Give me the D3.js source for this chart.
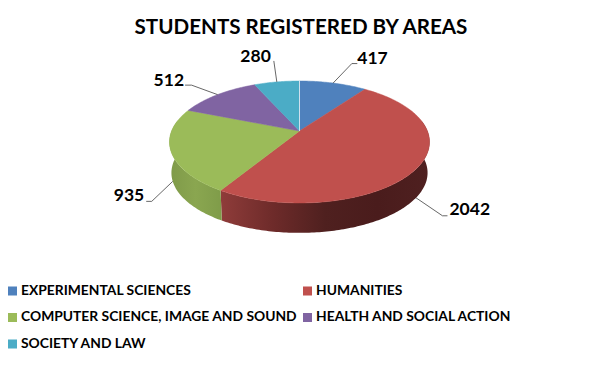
<!DOCTYPE html>
<html>
<head>
<meta charset="utf-8">
<title>Students registered by areas</title>
<style>
	html, body { margin: 0; padding: 0; background: #fff; }
	svg { display: block; }
	text { font-family: Lato, "Open Sans", sans-serif; font-weight: 700; fill: #000; }
</style>
</head>
<body>
<script src="https://cdn.jsdelivr.net/npm/d3@7/dist/d3.min.js"></script>
<script>
	var titleText = "STUDENTS REGISTERED BY AREAS";
	var categories = ["EXPERIMENTAL SCIENCES", "HUMANITIES", "COMPUTER SCIENCE, IMAGE AND SOUND", "HEALTH AND SOCIAL ACTION", "SOCIETY AND LAW"];
	var values = [417, 2042, 935, 512, 280];
	var colors = ["#4f81bd", "#c0504d", "#9bbb59", "#8064a2", "#4bacc6"];
	// wall shading, left to right
	var wallColors = [null, ["#8f3c3a", "#6e2b2a", "#4f201f", "#4a1c1c", "#4f2020"], ["#7f9a49", "#8aa650", "#7f9c49"], null, null];

	var width = 602, height = 366;
	var cx = 299.5, cy = 131;		// where the slices meet
	var rx = 127.9, ry = 59;		// tilted disc
	var persp = 0.18;				// the near side looks larger
	var depth = 31;

	var svg = d3.select("body").append("svg")
		.attr("width", width)
		.attr("height", height);

	var pie = d3.pie().sort(null).value(function (d) { return d; });
	var slices = pie(values);

	// angle on the disc -> point on the page
	function project(a, r, dy, scale) {
		var u = Math.sin(a) * r, v = -Math.cos(a) * r;
		var w = 1 - persp * v;
		return [cx + scale * rx * u / w, cy + dy + scale * ry * v / w];
	}
	function topRim(a) { return project(a, 1, 0, 1); }
	function lowRim(a) { return project(a, 1, depth, 0.985); }

	function angles(a0, a1) {
		var n = Math.max(2, Math.ceil((a1 - a0) * 60));
		return d3.range(n + 1).map(function (i) { return a0 + (a1 - a0) * i / n; });
	}
	var line = d3.line();

	// only the front of the disc (a from 90 to 270 deg, give or take the tilt) has a wall
	var frontFrom = Math.PI / 2 - 0.18, frontTo = Math.PI * 1.5 + 0.18;
	var defs = svg.append("defs");

	slices.forEach(function (d, i) {
		if (!wallColors[i]) return;
		var a0 = Math.max(d.startAngle, frontFrom), a1 = Math.min(d.endAngle, frontTo);
		var ts = angles(a0, a1);
		var pts = ts.map(topRim).concat(ts.slice().reverse().map(lowRim));
		var xs = pts.map(function (p) { return p[0]; });
		var grad = defs.append("linearGradient")
			.attr("id", "wall" + i)
			.attr("gradientUnits", "userSpaceOnUse")
			.attr("x1", d3.min(xs)).attr("x2", d3.max(xs))
			.attr("y1", 0).attr("y2", 0);
		wallColors[i].forEach(function (c, j) {
			grad.append("stop")
				.attr("offset", j / (wallColors[i].length - 1))
				.attr("stop-color", c);
		});
		svg.append("path")
			.attr("d", line(pts) + "Z")
			.attr("fill", "url(#wall" + i + ")");
	});

	slices.forEach(function (d, i) {
		var pts = [[cx, cy]].concat(angles(d.startAngle, d.endAngle).map(topRim));
		svg.append("path")
			.attr("d", line(pts) + "Z")
			.attr("fill", colors[i])
			.attr("stroke", colors[i])
			.attr("stroke-width", 0.5);
	});

	// thin light seam at 12 o'clock, where the first and last slice meet
	svg.append("path")
		.attr("d", line([[cx, cy], topRim(0)]))
		.attr("stroke", "#cfe0ee")
		.attr("stroke-width", 1);

	// leaders: [starts on the wall?, elbow dx, elbow dy, end dx], label [dx, dy] from the end
	var leaders = [
		[false, 18.7, -19.5, 5.5, 0, -4, "start"],
		[true, 26.5, 18, 5, 2, -5, "start"],
		[true, -21, 20, -5.5, -2, -5, "end"],
		[false, -26, -9.5, -6.5, -1, -4, "end"],
		[false, -3, -21, 0, -3, -3, "end"]
	];
	var labelSize = 17.5;

	slices.forEach(function (d, i) {
		var mid = (d.startAngle + d.endAngle) / 2;
		var l = leaders[i];
		var p0 = l[0] ? lowRim(mid) : topRim(mid);
		var p1 = [p0[0] + l[1], p0[1] + l[2]];
		var p2 = [p1[0] + l[3], p1[1]];
		svg.append("path")
			.attr("d", line([p0, p1, p2]))
			.attr("fill", "none")
			.attr("stroke", "#404040")
			.attr("stroke-width", 0.8);
		svg.append("text")
			.attr("x", p2[0] + l[4])
			.attr("y", p2[1] + l[5])
			.attr("text-anchor", l[6])
			.attr("dominant-baseline", "middle")
			.attr("font-size", labelSize)
			.text(values[i]);
	});

	svg.append("text")
		.attr("x", 301)
		.attr("y", 34)
		.attr("text-anchor", "middle")
		.attr("font-size", 20.6)
		.text(titleText);

	// legend, two columns
	var legendX = d3.scaleOrdinal().domain([0, 1]).range([8, 303]);
	var legendY = d3.scalePoint().domain([0, 1, 2]).range([291, 344]);
	var legend = svg.selectAll("g.legend")
		.data(categories)
		.enter()
		.append("g")
		.attr("class", "legend")
		.attr("transform", function (d, i) {
			return "translate(" + legendX(i % 2) + "," + legendY(Math.floor(i / 2)) + ")";
		});
	legend.append("rect")
		.attr("x", 0).attr("y", -4.5)
		.attr("width", 9).attr("height", 9)
		.attr("fill", function (d, i) { return colors[i]; });
	legend.append("text")
		.attr("x", 13)
		.attr("y", 0)
		.attr("dominant-baseline", "middle")
		.attr("font-size", 13.85)
		.text(function (d) { return d; });
</script>
</body>
</html>
